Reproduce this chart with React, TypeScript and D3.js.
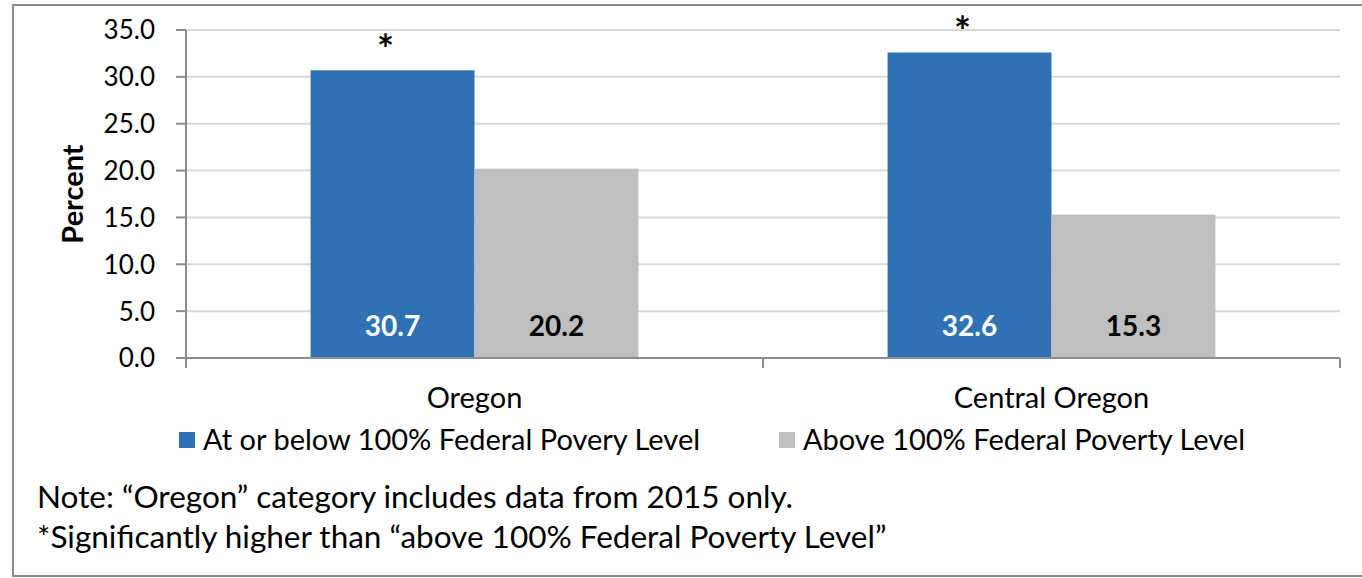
import React from "react";
import * as d3 from "d3";

const categories = ["Oregon", "Central Oregon"];
const seriesNames = ["At or below 100% Federal Povery Level", "Above 100% Federal Poverty Level"];
const belowFPL = [30.7, 32.6];
const aboveFPL = [20.2, 15.3];
const significant = [true, true];
const yTicks = [0, 5, 10, 15, 20, 25, 30, 35];
const notes = [
  "Note: \u201cOregon\u201d category includes data from 2015 only.",
  "*Significantly higher than \u201cabove 100% Federal Poverty Level\u201d",
];

const colors = ["#2E72B4", "#BFBFBF"];
const labelColors = ["#FFFFFF", "#000000"];
const FONT = "Lato, 'Open Sans', sans-serif";

export default function App() {
  const W = 1362, H = 578;
  const left = 186, right = 1340, top = 30, bottom = 358;
  const y = d3.scaleLinear().domain([0, 35]).range([bottom, top]);
  const x0 = d3.scaleBand<string>().domain(categories).range([left, right]).padding(0);
  const x1 = d3.scaleBand<string>().domain(["0", "1"]).range([0, x0.bandwidth()]).paddingInner(0).paddingOuter(0.76);
  const series = [belowFPL, aboveFPL];

  return (
    <svg width={W} height={H} style={{ position: "absolute", left: 0, top: 0, background: "#fff" }} fontFamily={FONT}>
      {/* outer border */}
      <path d={`M${W + 2},5 H13 V576 H${W + 2}`} fill="none" stroke="#8a8a8a" strokeWidth={2} />
      {/* grid */}
      {yTicks.filter(t => t > 0).map(t => (
        <line key={t} x1={left} x2={right} y1={y(t)} y2={y(t)} stroke="#D9D9D9" strokeWidth={2} />
      ))}
      {/* bars */}
      {categories.map((c, i) => (
        <g key={c}>
          {series.map((s, k) => (
            <rect key={k} x={x0(c)! + x1(String(k))!} y={y(s[i])} width={x1.bandwidth()} height={y(0) - y(s[i])} fill={colors[k]} />
          ))}
          {series.map((s, k) => (
            <text key={"l" + k} x={x0(c)! + x1(String(k))! + x1.bandwidth() / 2} y={326} dy="0.35em" textAnchor="middle"
              fontSize={28} fontWeight="bold" fill={labelColors[k]}>{s[i].toFixed(1)}</text>
          ))}
          {significant[i] && (
            <text x={x0(c)! + x1("0")! + x1.bandwidth() / 2 - 7} y={y(belowFPL[i]) - 26} dy="0.5em" textAnchor="middle"
              fontSize={40} fontWeight="bold" fill="#000">*</text>
          )}
        </g>
      ))}
      {/* y axis */}
      <line x1={left} x2={left} y1={top} y2={bottom} stroke="#8c8c8c" strokeWidth={2} />
      {yTicks.map(t => (
        <g key={t}>
          <line x1={left - 10} x2={left} y1={y(t)} y2={y(t)} stroke="#8c8c8c" strokeWidth={2} />
          <text x={155} y={y(t)} dy="0.36em" textAnchor="end" fontSize={26} fill="#000">{t.toFixed(1)}</text>
        </g>
      ))}
      {/* x axis */}
      <line x1={left} x2={right} y1={bottom} y2={bottom} stroke="#8c8c8c" strokeWidth={2} />
      {[left, left + x0.bandwidth(), right].map((tx, i) => (
        <line key={i} x1={tx} x2={tx} y1={bottom} y2={bottom + 10} stroke="#8c8c8c" strokeWidth={2} />
      ))}
      {categories.map(c => (
        <text key={c} x={x0(c)! + x0.bandwidth() / 2} y={398} dy="0.35em" textAnchor="middle" fontSize={29} fill="#000">{c}</text>
      ))}
      <text transform={`translate(73,194) rotate(-90)`} dy="0.35em" textAnchor="middle" fontSize={29} fontWeight="bold" fill="#000">Percent</text>
      {/* legend */}
      {[179, 779].map((lx, k) => (
        <g key={k}>
          <rect x={lx} y={432} width={16} height={16} fill={colors[k]} />
          <text x={lx + 24} y={440} dy="0.35em" fontSize={29} fill="#000">{seriesNames[k]}</text>
        </g>
      ))}
      {notes.map((n, i) => (
        <text key={i} x={37} y={497 + i * 40} dy="0.35em" fontSize={31.5} fill="#000">{n}</text>
      ))}
    </svg>
  );
}
